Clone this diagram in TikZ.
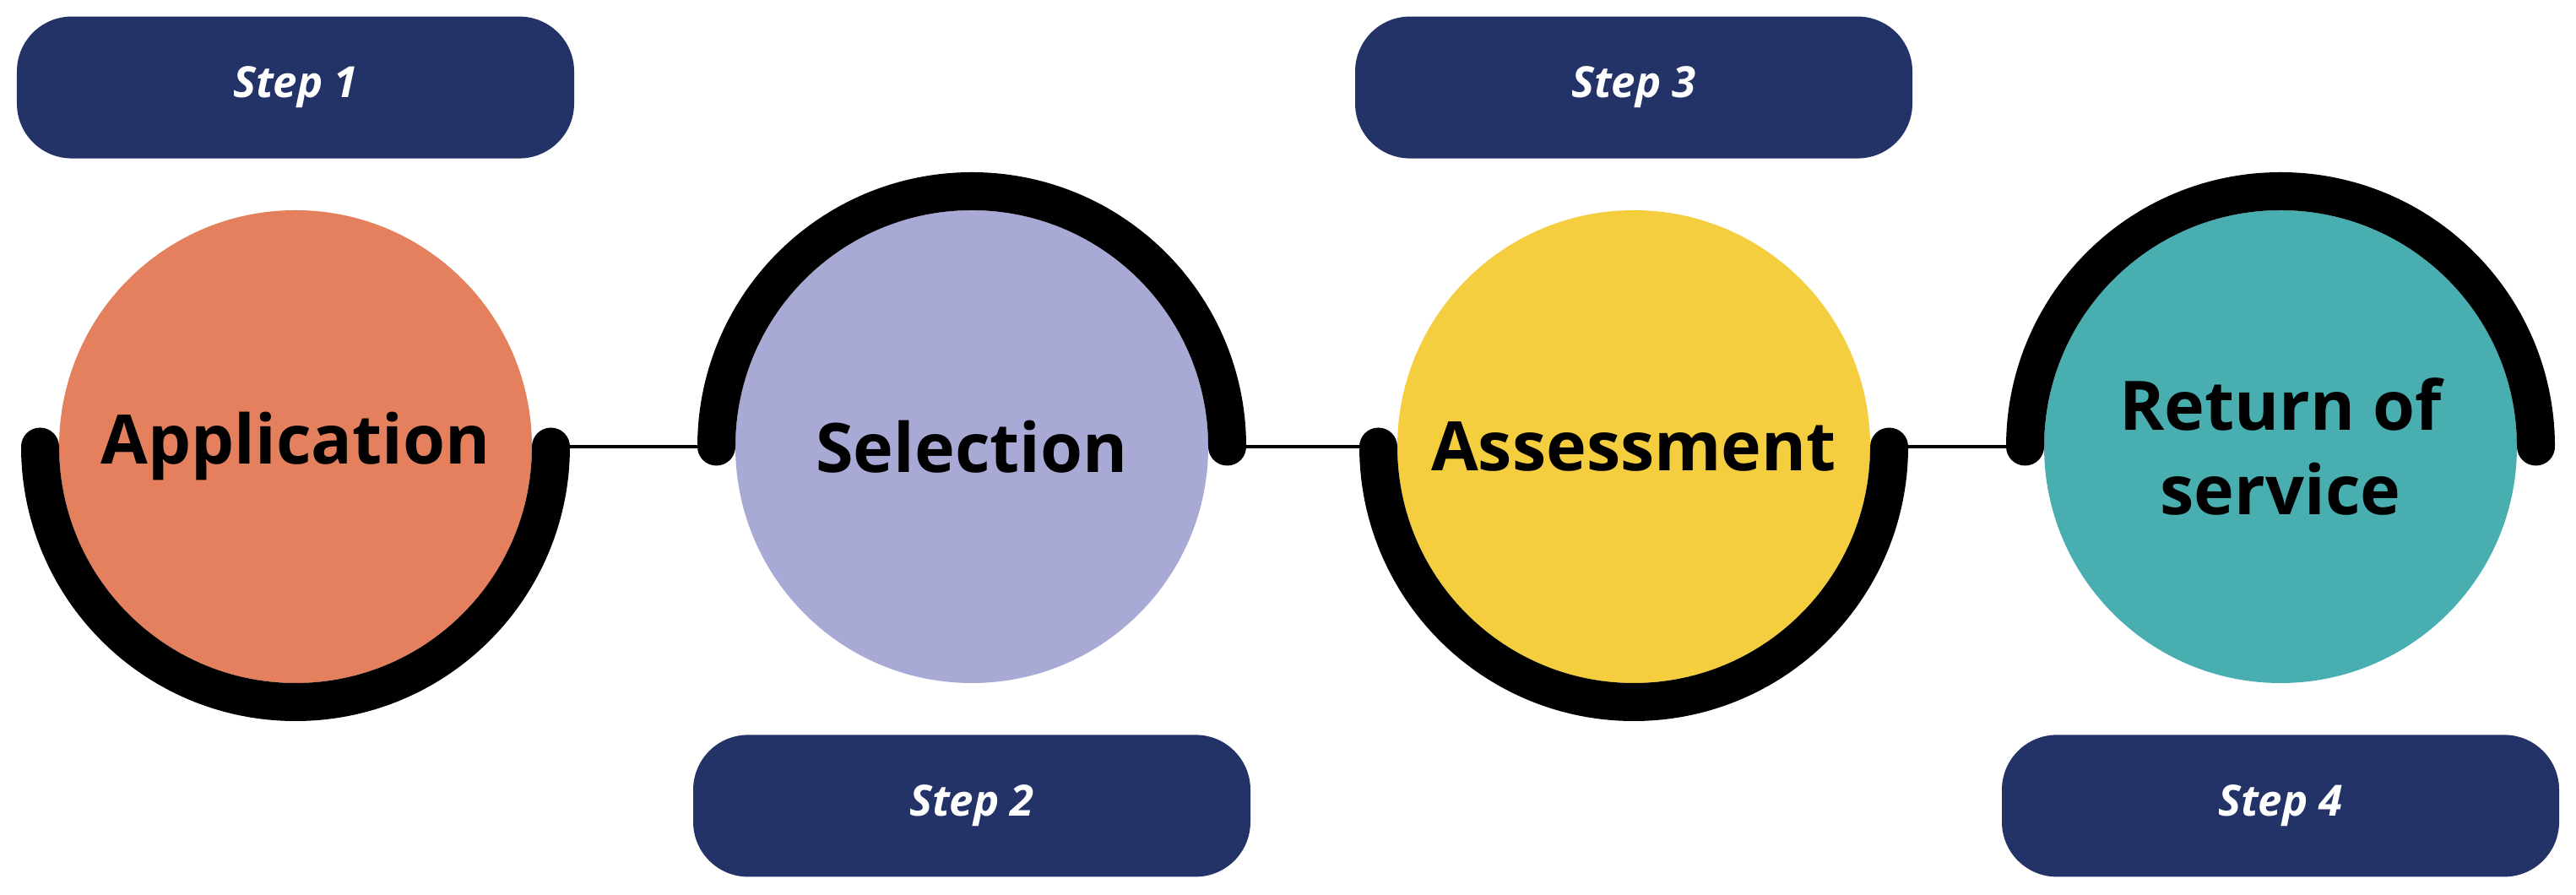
\documentclass[tikz,border=0pt]{standalone}
\usepackage{fontspec}
\setmainfont{Open Sans}
\usepackage{tikz}
\usetikzlibrary{positioning}

\definecolor{navy}{HTML}{233367}
\definecolor{appcol}{HTML}{E5805F}
\definecolor{selcol}{HTML}{A8A9D5}
\definecolor{asscol}{HTML}{F4CE3E}
\definecolor{retcol}{HTML}{48AEB0}

\begin{document}
\begin{tikzpicture}[
        node distance=0.6cm and 2.4cm,
        stage/.style={circle, minimum size=5.6cm, inner sep=0pt, align=center, font=\fontsize{23}{28.6}\selectfont\bfseries},
        stepbox/.style={rectangle, rounded corners=0.65cm, minimum width=6.6cm, minimum height=1.68cm, fill=navy, text=white, font=\fontsize{14.5}{17}\selectfont\bfseries\itshape},
        ring/.style={line width=0.45cm, line cap=round},
        link/.style={line width=0.9pt}
    ]
        \useasboundingbox (0,0) rectangle (30.51,10.60);

        % Define nodes
        \node (app) [stage, fill=appcol] at (3.50,5.31) {Application};
        \node (sel) [stage, fill=selcol] at (11.51,5.31) {Selection};
        \node (ass) [stage, fill=asscol] at (19.35,5.31) {Assessment};
        \node (ret) [stage, fill=retcol] at (27.01,5.31) {Return of\\service};

        \node (step1) [stepbox, above=of app] {Step 1};
        \node (step2) [stepbox, below=of sel] {Step 2};
        \node (step3) [stepbox, above=of ass] {Step 3};
        \node (step4) [stepbox, below=of ret] {Step 4};

        % Arc ends
        \foreach \n in {app, sel, ass, ret} {
            \coordinate (\n-l) at ([xshift=-3.025cm]\n.center);
            \coordinate (\n-r) at ([xshift=3.025cm]\n.center);
        }

        % Draw rings
        \draw [ring] (app-l) arc[start angle=180, end angle=360, radius=3.025cm];
        \draw [ring] (sel-l) arc[start angle=180, end angle=0, radius=3.025cm];
        \draw [ring] (ass-l) arc[start angle=180, end angle=360, radius=3.025cm];
        \draw [ring] (ret-l) arc[start angle=180, end angle=0, radius=3.025cm];

        % Draw links
        \draw [link] (app-r) -- (sel-l);
        \draw [link] (sel-r) -- (ass-l);
        \draw [link] (ass-r) -- (ret-l);
    \end{tikzpicture}
\end{document}
